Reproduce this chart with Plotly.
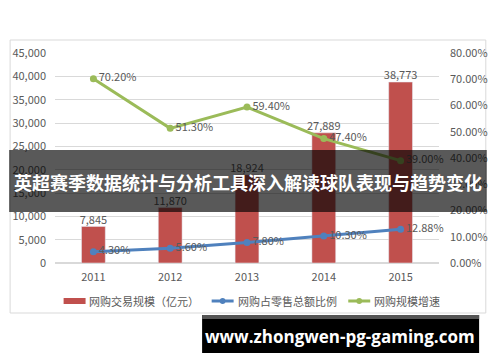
import plotly.graph_objects as go

years = ["2011", "2012", "2013", "2014", "2015"]
scale = [7845, 11870, 18924, 27889, 38773]
share = [4.30, 5.60, 7.80, 10.30, 12.88]
growth = [70.20, 51.30, 59.40, 47.40, 39.00]
scale_labels = ["7,845", "11,870", "18,924", "27,889", "38,773"]
left_ticks = [0, 5000, 10000, 15000, 20000, 25000, 30000, 35000, 40000, 45000]
right_ticks = [0, 10, 20, 30, 40, 50, 60, 70, 80]

names = ["网购交易规模（亿元）", "网购占零售总额比例", "网购规模增速"]
title_text = "英超赛季数据统计与分析工具深入解读球队表现与趋势变化"
watermark = "www.zhongwen-pg-gaming.com"

W, H = 500, 362
L, R, T, B = 48, 50, 53, 99
PW, PH = W - L - R, H - T - B

def px(x):
    return (x - L) / PW

def py(y):
    return (H - B - y) / PH

FONT = "Noto Sans CJK SC, Open Sans, sans-serif"
GRAY = "#595959"
RED, BLUE, GREEN = "#C0504D", "#4F81BD", "#9BBB59"

fig = go.Figure()
fig.add_trace(go.Bar(
    x=years, y=scale, name=names[0], marker_color=RED, width=0.31,
))
fig.add_trace(go.Scatter(
    x=years, y=scale, mode="text", text=scale_labels, textposition="top center",
    textfont=dict(size=11, color=GRAY, family=FONT), cliponaxis=False, hoverinfo="skip",
))
fig.add_trace(go.Scatter(
    x=years, y=share, name=names[1], yaxis="y2", mode="lines+markers+text",
    line=dict(color=BLUE, width=3), marker=dict(size=7, color=BLUE),
    text=[f"{v:.2f}%" for v in share], textposition="middle right",
    textfont=dict(size=11, color=GRAY, family=FONT), cliponaxis=False,
))
fig.add_trace(go.Scatter(
    x=years, y=growth, name=names[2], yaxis="y2", mode="lines+markers+text",
    line=dict(color=GREEN, width=3), marker=dict(size=7, color=GREEN),
    text=[f"{v:.2f}%" for v in growth], textposition="middle right",
    textfont=dict(size=11, color=GRAY, family=FONT), cliponaxis=False,
))

fig.update_layout(
    width=W, height=H, margin=dict(l=L, r=R, t=T, b=B, pad=0),
    paper_bgcolor="white", plot_bgcolor="white",
    font=dict(family=FONT, size=11, color=GRAY),
    showlegend=False,
    xaxis=dict(showgrid=False, showline=False, ticks="", tickfont=dict(size=11, color=GRAY),
               ticklabelstandoff=6),
    yaxis=dict(range=[0, 45000], tickvals=left_ticks, tickformat=",", showgrid=True,
               gridcolor="#D9D9D9", gridwidth=1, zeroline=True, zerolinecolor="#D9D9D9",
               ticks="", tickfont=dict(size=11, color=GRAY), ticklabelstandoff=8),
    yaxis2=dict(range=[0, 80], tickvals=right_ticks, ticktext=[f"{v:.2f}%" for v in right_ticks],
                overlaying="y", side="right", showgrid=False, zeroline=False, ticks="",
                tickfont=dict(size=11, color=GRAY), ticklabelstandoff=10),
)

shapes = [
    dict(type="rect", xref="paper", yref="paper", x0=px(1), x1=px(499), y0=py(313), y1=py(40),
         line=dict(color="#D9D9D9", width=1), fillcolor="rgba(0,0,0,0)", layer="below"),
    # legend symbols
    dict(type="rect", xref="paper", yref="paper", x0=px(57), x1=px(80), y0=py(304), y1=py(298),
         line=dict(width=0), fillcolor=RED),
    dict(type="line", xref="paper", yref="paper", x0=px(212), x1=px(235), y0=py(301), y1=py(301),
         line=dict(color=BLUE, width=3)),
    dict(type="circle", xref="paper", yref="paper", x0=px(220.5), x1=px(226.5), y0=py(304), y1=py(298),
         line=dict(width=0), fillcolor=BLUE),
    dict(type="line", xref="paper", yref="paper", x0=px(355), x1=px(378), y0=py(301), y1=py(301),
         line=dict(color=GREEN, width=3)),
    dict(type="circle", xref="paper", yref="paper", x0=px(363.5), x1=px(369.5), y0=py(304), y1=py(298),
         line=dict(width=0), fillcolor=GREEN),
    # overlays
    dict(type="rect", xref="paper", yref="paper", x0=px(0), x1=px(500), y0=py(212), y1=py(150),
         line=dict(width=0), fillcolor="rgba(0,0,0,0.65)", layer="above"),
    dict(type="rect", xref="paper", yref="paper", x0=px(202), x1=px(492), y0=py(353), y1=py(315),
         line=dict(width=0), fillcolor="#000000", layer="above"),
    dict(type="rect", xref="paper", yref="paper", x0=px(202), x1=px(492), y0=py(319), y1=py(315),
         line=dict(width=0), fillcolor="#555555", layer="above"),
]
fig.update_layout(shapes=shapes)

for xpos, name in zip([82, 237, 380], names):
    fig.add_annotation(text=name, xref="paper", yref="paper", x=px(xpos), y=py(301),
                       xanchor="left", yanchor="middle", showarrow=False,
                       font=dict(size=11, color=GRAY, family=FONT))

fig.add_annotation(text=f"<b>{title_text}</b>", xref="paper", yref="paper",
                   x=px(250), y=py(182), xanchor="center", yanchor="middle", showarrow=False,
                   font=dict(size=18, color="white", family="Noto Sans CJK SC"))
fig.add_annotation(text=f"<b>{watermark}</b>", xref="paper", yref="paper",
                   x=px(346), y=py(336), xanchor="center", yanchor="middle", showarrow=False,
                   font=dict(size=17, color="white", family="Open Sans"))

fig.write_html("out.html")
